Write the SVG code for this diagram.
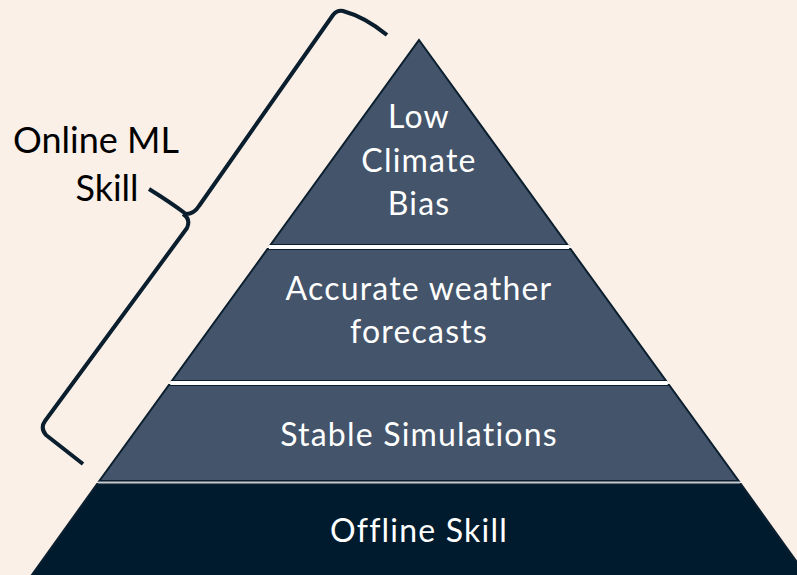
<svg xmlns="http://www.w3.org/2000/svg" width="797" height="575" viewBox="0 0 797 575">
  <style>
    .tier { fill: #44546A; stroke: #0B1F2E; stroke-width: 2; stroke-linejoin: miter; }
    .base { fill: #011B2E; stroke: #0B1F2E; stroke-width: 2; }
    .gap { stroke: #FFFFFF; stroke-width: 4; }
    .label { font-family: Lato, "Open Sans", sans-serif; font-size: 32px; letter-spacing: 1.2px; fill: #FFFFFF; text-anchor: middle; }
    .side { font-family: Lato, "Open Sans", sans-serif; font-size: 36px; fill: #000000; text-anchor: middle; }
    .brace { fill: none; stroke: #0A1E2D; stroke-width: 4; stroke-linejoin: round; stroke-linecap: butt; }
  </style>
  <rect width="797" height="575" fill="#FAF0E8"/>

  <!-- pyramid tiers, apex at (419,40), slope 0.725 -->
  <g id="tier-offline">
    <polygon class="base" points="97.1,484 740.9,484 806.9,576 31.1,576"/>
    <text class="label" x="419" y="542">Offline Skill</text>
  </g>
  <g id="tier-stable">
    <polygon class="tier" points="168.9,385 669.1,385 738.7,481 99.3,481"/>
    <text class="label" x="419" y="446">Stable Simulations</text>
  </g>
  <g id="tier-weather">
    <polygon class="tier" points="267.5,249 570.5,249 666.2,381 171.8,381"/>
    <text class="label" x="419" y="300">Accurate weather</text>
    <text class="label" x="419" y="343">forecasts</text>
  </g>
  <g id="tier-bias">
    <polygon class="tier" points="419,40 567.6,245 270.4,245"/>
    <text class="label" x="419" y="128">Low</text>
    <text class="label" x="419" y="172">Climate</text>
    <text class="label" x="419" y="215">Bias</text>
  </g>

  <!-- separators between tiers -->
  <g id="separators">
    <line class="gap" x1="268.9" y1="247" x2="569.1" y2="247"/>
    <line class="gap" x1="170.3" y1="383" x2="667.7" y2="383"/>
    <line x1="98.2" y1="482.6" x2="739.8" y2="482.6" stroke="#C3CAD2" stroke-width="2"/>
  </g>

  <!-- bracket spanning the upper tiers -->
  <g id="connectors">
    <path class="brace" d="M387,35 Q365,17 343,11 Q337,10 333,15 L199,206 Q194,214 186,214 Q170,202 149,189"/>
    <path class="brace" d="M183,214 Q191,219 187,228 L45,421 Q40,428 46,435 L83,464"/>
  </g>

  <g id="online-ml-skill">
    <text class="side" x="96" y="153">Online ML</text>
    <text class="side" x="107" y="201">Skill</text>
  </g>
</svg>
